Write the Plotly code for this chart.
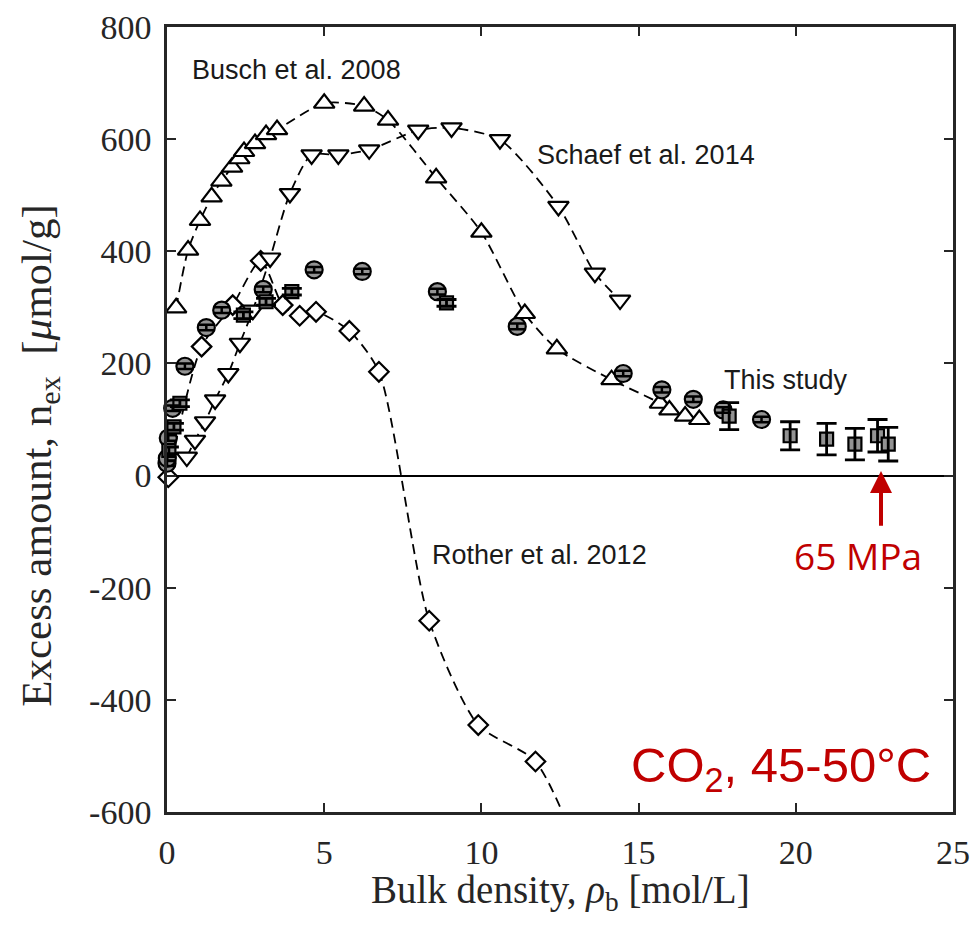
import plotly.graph_objects as go

# ---------------- data ----------------
busch_x = [0.29, 0.67, 1.05, 1.42, 1.73, 2.07, 2.30, 2.45, 2.80, 3.15, 3.50, 5.00, 6.27, 7.03, 8.56, 10.00, 11.38, 12.40, 14.14, 15.68, 15.98, 16.48, 16.93]
busch_y = [299, 402, 455, 497, 525, 550, 565, 578, 592, 608, 617, 664, 659, 634, 531, 434, 289, 226, 171, 129, 117, 106, 100]

schaef_x = [0.63, 0.89, 1.21, 1.53, 1.95, 2.32, 2.73, 3.28, 3.91, 4.60, 5.45, 6.43, 7.99, 9.05, 10.59, 12.45, 13.61, 14.41]
schaef_y = [33, 63, 96, 135, 182, 236, 295, 388, 503, 572, 572, 581, 616, 620, 599, 480, 361, 313]

rother_x = [0.04, 1.10, 2.09, 2.98, 3.68, 4.22, 4.74, 5.80, 6.74, 8.34, 9.90, 11.72, 13.30]
rother_y = [-3, 230, 304, 383, 304, 285, 292, 258, 185, -259, -445, -510, -700]

study_circ_x = [0.00, 0.01, 0.04, 0.18, 0.57, 1.25, 1.74, 3.06, 4.68, 6.21, 8.60, 11.14, 14.51, 15.74, 16.74, 17.69, 18.91]
study_circ_y = [22, 31, 67, 120, 195, 264, 295, 332, 367, 364, 328, 266, 182, 153, 136, 117, 100]
study_circ_err = [5, 5, 5, 5, 5, 5, 5, 5, 5, 5, 5, 5, 5, 5, 5, 5, 5]

study_sq_x = [0.06, 0.22, 0.41, 2.43, 3.15, 3.97, 8.89, 17.88, 19.82, 20.98, 21.88, 22.60, 22.94]
study_sq_y = [45, 87, 129, 286, 310, 328, 308, 106, 71, 65, 56, 71, 56]
study_sq_err = [6, 6, 6, 6, 6, 6, 6, 24, 25, 28, 28, 29, 30]

x_ticks = [0, 5, 10, 15, 20, 25]
y_ticks = [800, 600, 400, 200, 0, -200, -400, -600]
x_range = [0, 25]
y_range = [-600, 800]

arrow_x = 22.71      # 65 MPa point
arrow_tip_y = 8
arrow_tail_y = -92

# ---------------- figure ----------------
AX = '#262626'
GRAY = '#939393'
DASH = '10px,6px'

fig = go.Figure()

def in_range(xs, ys):
    pts = [(a, b) for a, b in zip(xs, ys) if y_range[0] <= b <= y_range[1]]
    return [p[0] for p in pts], [p[1] for p in pts]

lit = [
    (rother_x, rother_y, 'diamond', 15),
    (busch_x, busch_y, 'triangle-up', 18),
    (schaef_x, schaef_y, 'triangle-down', 18),
]
for xs, ys, sym, sz in lit:
    fig.add_trace(go.Scatter(x=xs, y=ys, mode='lines',
                             line=dict(color='black', width=1.8, dash=DASH, shape='spline', smoothing=0.7),
                             showlegend=False, hoverinfo='skip'))
for xs, ys, sym, sz in lit:
    mx, my = in_range(xs, ys)
    fig.add_trace(go.Scatter(x=mx, y=my, mode='markers', cliponaxis=False,
                             marker=dict(symbol=sym, size=sz, color='white',
                                         line=dict(color='black', width=2.2)),
                             showlegend=False))

# This study: markers then error bars on top
fig.add_trace(go.Scatter(x=study_circ_x, y=study_circ_y, mode='markers', cliponaxis=False,
                         marker=dict(symbol='circle', size=17, color=GRAY,
                                     line=dict(color='black', width=2.2)),
                         showlegend=False))
fig.add_trace(go.Scatter(x=study_sq_x, y=study_sq_y, mode='markers', cliponaxis=False,
                         marker=dict(symbol='square', size=13, color=GRAY,
                                     line=dict(color='black', width=2.2)),
                         showlegend=False))
fig.add_trace(go.Scatter(x=study_circ_x, y=study_circ_y, mode='markers', cliponaxis=False,
                         marker=dict(size=1, opacity=0),
                         error_y=dict(type='data', array=study_circ_err, color='black', thickness=2.5, width=8),
                         showlegend=False, hoverinfo='skip'))
fig.add_trace(go.Scatter(x=study_sq_x, y=study_sq_y, mode='markers', cliponaxis=False,
                         marker=dict(size=1, opacity=0),
                         error_y=dict(type='data', array=study_sq_err, color='black', thickness=2.8, width=10),
                         showlegend=False, hoverinfo='skip'))

tickfont = dict(family='Liberation Serif, Times New Roman, serif', size=34, color=AX)
fig.update_xaxes(range=x_range, tickvals=x_ticks, ticktext=[str(v) for v in x_ticks],
                 ticks='inside', ticklen=9, tickwidth=2,
                 tickcolor=AX, showline=True, linecolor=AX, linewidth=2.5, mirror='ticks',
                 showgrid=False, zeroline=False, tickfont=tickfont, ticklabelstandoff=8,
                 automargin=False)
fig.update_yaxes(range=y_range, tickvals=y_ticks, ticktext=[str(v) for v in y_ticks],
                 ticks='inside', ticklen=9, tickwidth=2,
                 tickcolor=AX, showline=True, linecolor=AX, linewidth=2.5, mirror='ticks',
                 showgrid=False, zeroline=True, zerolinecolor='black', zerolinewidth=2,
                 tickfont=tickfont, ticklabelstandoff=6, automargin=False)

lab = dict(family='Liberation Sans, Arial, sans-serif', size=27, color='#1a1a1a')
red = '#c00000'
ann = [
    dict(x=0.73, y=723, text='Busch et al. 2008', xanchor='left', yanchor='middle', showarrow=False, font=lab),
    dict(x=11.7, y=572, text='Schaef et al. 2014', xanchor='left', yanchor='middle', showarrow=False, font=lab),
    dict(x=17.65, y=170, text='This study', xanchor='left', yanchor='middle', showarrow=False, font=lab),
    dict(x=8.37, y=-142, text='Rother et al. 2012', xanchor='left', yanchor='middle', showarrow=False, font=lab),
    dict(x=21.98, y=-142, text='65 MPa', xanchor='center', yanchor='middle', showarrow=False,
         font=dict(family='Open Sans, Noto Sans, sans-serif', size=37, color=red)),
    dict(x=arrow_x, y=arrow_tip_y, ax=arrow_x, ay=arrow_tail_y, xref='x', yref='y', axref='x', ayref='y',
         text='', showarrow=True, arrowhead=2, arrowsize=1.1, arrowwidth=4, arrowcolor=red),
    dict(x=0.975, y=0.055, xref='paper', yref='paper', text='CO<sub>2</sub>, 45-50°C',
         xanchor='right', yanchor='middle', showarrow=False,
         font=dict(family='Liberation Sans, Arial, sans-serif', size=49, color=red)),
    dict(x=0.5, y=-0.103, xref='paper', yref='paper', text='Bulk density, <i>ρ</i><sub>b</sub> [mol/L]',
         xanchor='center', yanchor='middle', showarrow=False,
         font=dict(family='Liberation Serif, Times New Roman, serif', size=39, color=AX)),
    dict(x=-0.1616, y=0.455, xref='paper', yref='paper', text='Excess amount, n<sub>ex</sub>  [<i>μ</i>mol/g]',
         textangle=-90, xanchor='center', yanchor='middle', showarrow=False,
         font=dict(family='Liberation Serif, Times New Roman, serif', size=43, color=AX)),
]
fig.update_layout(width=973, height=927, margin=dict(l=167, r=20, t=27, b=115),
                  paper_bgcolor='white', plot_bgcolor='white', annotations=ann,
                  showlegend=False)

fig.write_html('out.html')
